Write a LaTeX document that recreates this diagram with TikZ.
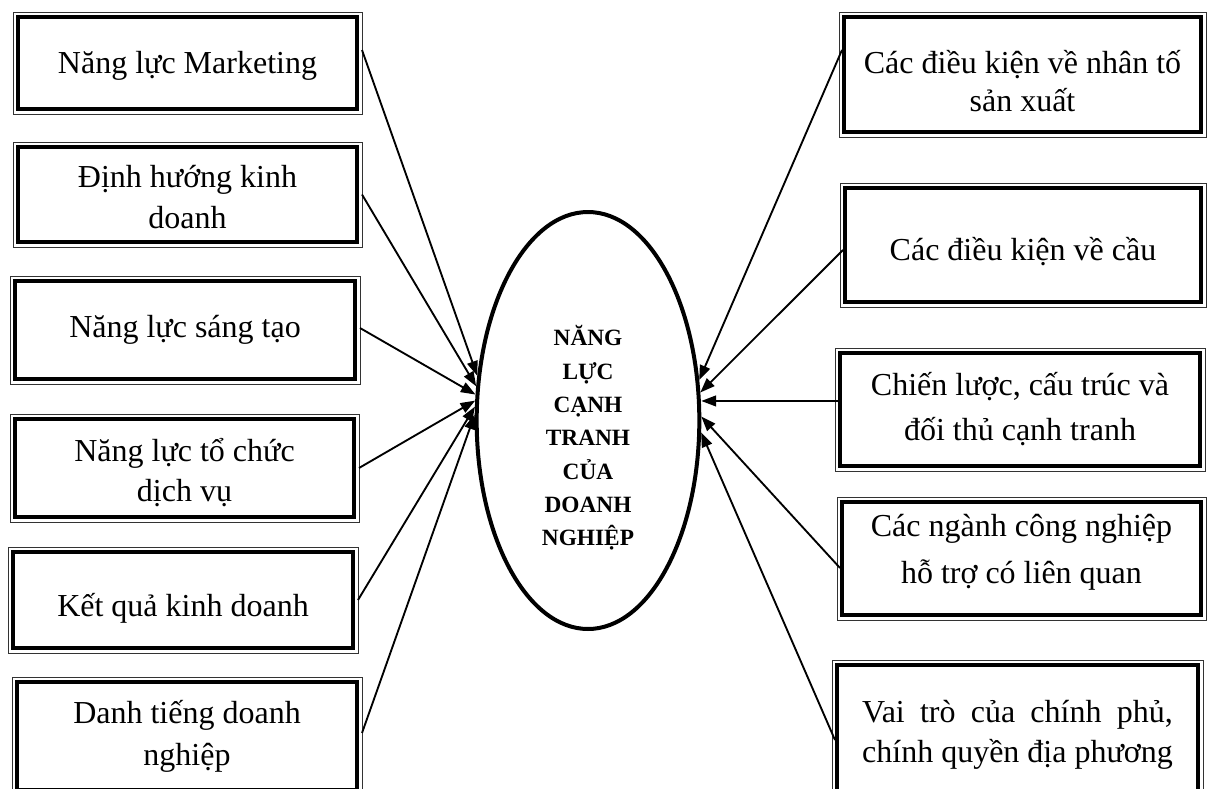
\documentclass[tikz,border=0pt]{standalone}
\usepackage{fontspec}
\setmainfont{Liberation Serif}
\usetikzlibrary{arrows.meta,shapes.geometric}
\newlength{\rvw}
\newcommand{\dn}[2]{\raisebox{#1}[\height][\depth]{#2}}
\newcommand{\mkbox}[7]{%
  \draw[outerline] (#2,#3) rectangle (#4,#5);
  \pgfmathsetmacro{\bw}{(#4-#2-10)*0.75}%
  \pgfmathsetmacro{\bh}{(#5-#3-10)*0.75}%
  \node[boxstyle, minimum width=\bw pt, minimum height=\bh pt, font=\fontsize{24}{#6}\selectfont] (#1) at ({(#2+#4)/2},{(#3+#5)/2}) {#7};
}
\tikzset{
  outerline/.style={line width=0.7pt, draw=black!80},
  boxstyle/.style={draw, line width=3pt, inner sep=0pt, align=center},
  conn/.style={line width=1.4pt, -{Triangle[length=11pt,width=8pt]}},
}
\begin{document}
\begin{tikzpicture}[x=0.75pt,y=-0.75pt]
\useasboundingbox (0,0) rectangle (1207,789);
\clip (0,0) rectangle (1207,789);
% left boxes
\mkbox{L1}{13}{12}{362}{114}{28}{\dn{-2pt}{Năng lực Marketing}}
\mkbox{L2}{13}{142}{362}{247}{30.75}{\dn{-2pt}{Định hướng kinh}\\\dn{-2pt}{doanh}}
\mkbox{L3}{10}{276}{360}{384}{28}{Năng lực sáng tạo}
\mkbox{L4}{10}{414}{359}{522}{30}{\dn{-3.5pt}{Năng lực tổ chức}\\\dn{-3.5pt}{dịch vụ}}
\mkbox{L5}{8}{547}{358}{653}{28}{\dn{-6.5pt}{Kết quả kinh doanh}}
\mkbox{L6}{12}{677}{362}{795}{31.5}{Danh tiếng doanh\\nghiệp}
% right boxes
\mkbox{R1}{839}{12}{1206}{137}{28.5}{\dn{-5pt}{Các điều kiện về nhân tố}\\\dn{-5pt}{sản xuất}}
\mkbox{R2}{840}{183}{1206}{307}{28}{\dn{-5pt}{Các điều kiện về cầu}}
\mkbox{R3}{835}{348}{1205}{471}{33.75}{Chiến lược, cấu trúc và\\đối thủ cạnh tranh}
\mkbox{R4}{837}{497}{1206}{620}{35}{\dn{4.5pt}{Các ngành công nghiệp}\\\dn{4.5pt}{hỗ trợ có liên quan}}
\mkbox{R5}{832}{660}{1203}{810}{30}{\settowidth{\rvw}{chính quyền địa phương}\makebox[\rvw][s]{Vai trò của chính phủ,}\\chính quyền địa phương}
% centre
\node[ellipse, draw, line width=3pt, inner sep=0pt, minimum width=167pt, minimum height=312.75pt] (E) at (588,420.5) {};
\node[align=center, font=\fontsize{17.5}{25}\selectfont\bfseries] (Etxt) at (588,438) {NĂNG\\LỰC\\CẠNH\\TRANH\\CỦA\\DOANH\\NGHIỆP};
% connectors
\draw[conn] ([shift={(2.25pt,9.75pt)}]L1.east) -- (E.158);
\draw[conn] ([xshift=2.25pt]L2.east) -- (E.163);
\draw[conn] ([shift={(2.25pt,1.5pt)}]L3.east) -- (E.167.5);
\draw[conn] ([xshift=2.25pt]L4.east) -- (E.170);
\draw[conn] ([xshift=2.25pt]L5.east) -- (E.173.5);
\draw[conn] ([shift={(2.25pt,2.25pt)}]L6.east) -- (E.177);
\draw[conn] ([yshift=18.4pt]R1.west) -- (E.20);
\draw[conn] ([yshift=-3.75pt]R2.west) -- (E.14);
\draw[conn] ([yshift=6.4pt]R3.west) -- ([yshift=6.4pt]R3.west -| E.east);
\draw[conn] ([yshift=-7.1pt]R4.west) -- (E.2);
\draw[conn] ([yshift=-3.75pt]R5.west) -- (E.354);
\end{tikzpicture}
\end{document}
